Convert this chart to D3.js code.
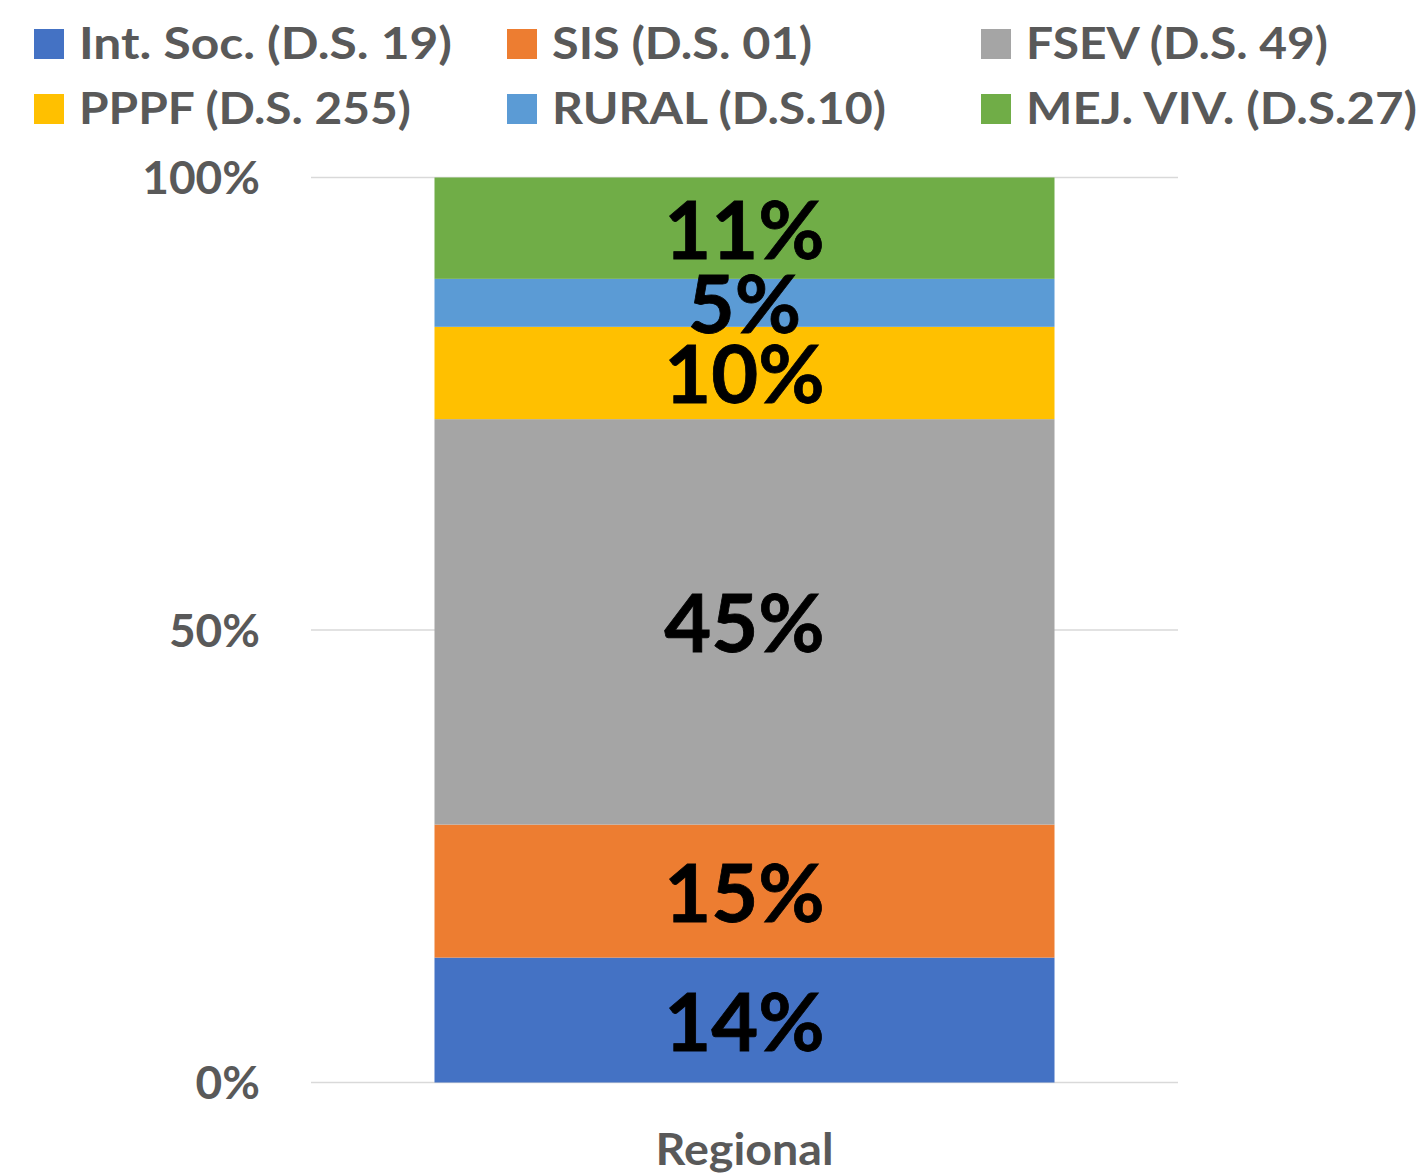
<!DOCTYPE html>
<html><head><meta charset="utf-8">
<script src="https://cdn.jsdelivr.net/npm/d3@7"></script>
<style>
body{margin:0;background:#fff}
text{font-family:Lato,"Open Sans",sans-serif;font-weight:700}
</style></head>
<body><svg id="c" width="1424" height="1174"></svg>
<script>
const categories = ["Regional"];
const seriesNames = ["Int. Soc. (D.S. 19)", "SIS (D.S. 01)", "FSEV (D.S. 49)", "PPPF (D.S. 255)", "RURAL (D.S.10)", "MEJ. VIV. (D.S.27)"];
const seriesValues = [13.8, 14.7, 44.8, 10.2, 5.3, 11.2];
const seriesLabels = ["14%", "15%", "45%", "10%", "5%", "11%"];
const yTicks = [0, 0.5, 1];
const yTickLabels = ["0%", "50%", "100%"];

const colors = ["#4472C4", "#ED7D31", "#A5A5A5", "#FFC000", "#5B9BD5", "#70AD47"];
const svg = d3.select("#c");

const total = d3.sum(seriesValues);
const y = d3.scaleLinear().domain([0, 1]).range([1082.5, 177.5]);
const x = d3.scaleBand().domain(categories).range([311, 1178]).paddingInner(0.1661).paddingOuter(0.1661);

// gridlines
svg.append("g").selectAll("line").data(yTicks).join("line")
  .attr("x1", 311).attr("x2", 1178)
  .attr("y1", d => y(d)).attr("y2", d => y(d))
  .attr("stroke", "#D9D9D9").attr("stroke-width", 1.5);

// y tick labels
svg.append("g").selectAll("text").data(yTicks).join("text")
  .attr("x", 260).attr("y", d => y(d) + 16.5)
  .attr("text-anchor", "end").attr("font-size", 46).attr("fill", "#595959")
  .text((d, i) => yTickLabels[i]);

// stacked segments
let acc = 0;
const segs = seriesValues.map((v, i) => {
  const s = {i, y0: acc / total, y1: (acc + v) / total};
  acc += v;
  return s;
});
const cat = categories[0];
svg.append("g").selectAll("rect").data(segs).join("rect")
  .attr("x", x(cat)).attr("width", x.bandwidth())
  .attr("y", d => y(d.y1)).attr("height", d => y(d.y0) - y(d.y1))
  .attr("fill", d => colors[d.i]);

svg.append("g").selectAll("text").data(segs).join("text")
  .attr("x", x(cat) + x.bandwidth() / 2)
  .attr("y", d => (y(d.y0) + y(d.y1)) / 2 + 30.5)
  .attr("text-anchor", "middle").attr("font-size", 81).attr("fill", "#000")
  .style("paint-order", "stroke").attr("stroke", "#000").attr("stroke-width", 0.8)
  .text(d => seriesLabels[d.i]);

// category label
svg.append("text").attr("x", x(cat) + x.bandwidth() / 2).attr("y", 1165)
  .attr("text-anchor", "middle").attr("font-size", 44.5).attr("fill", "#595959")
  .attr("textLength", 178).attr("lengthAdjust", "spacingAndGlyphs")
  .text(cat);

// legend
const legCols = [34, 507, 981];
const legRows = [29, 94];
const legWidths = [373, 260, 302, 332, 334, 391];
const lg = svg.append("g").selectAll("g").data(seriesNames).join("g")
  .attr("transform", (d, i) => `translate(${legCols[i % 3]},${legRows[Math.floor(i / 3)]})`);
lg.append("rect").attr("width", 30).attr("height", 30).attr("fill", (d, i) => colors[i]);
lg.append("text").attr("x", 45).attr("y", 30).attr("font-size", 44.5).attr("fill", "#595959")
  .attr("textLength", (d, i) => legWidths[i]).attr("lengthAdjust", "spacingAndGlyphs")
  .text(d => d);
</script></body></html>
